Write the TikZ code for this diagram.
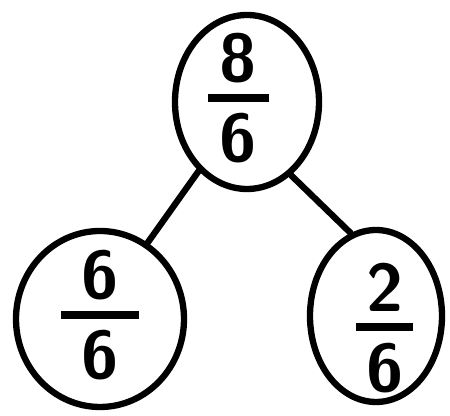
\documentclass[tikz,border=0pt]{standalone}
\usepackage{tikz}
\usetikzlibrary{shapes.geometric, positioning}
\newcommand{\handfrac}[3][0.9em]{\vbox{\offinterlineskip\halign{\hfil##\hfil\cr#2\cr\noalign{\kern8pt}\rule{#1}{5.5pt}\cr\noalign{\kern8.5pt}#3\cr}}}
\tikzset{
    part/.style={ellipse, draw=black, line width=4.5pt, inner sep=0pt},
    fraction/.style={inner sep=0pt, font=\fontsize{48}{52}\selectfont\sffamily\bfseries},
    branch/.style={line width=4.5pt, line cap=round}
}
\begin{document}
\begin{tikzpicture}
        % Frame
        \useasboundingbox (0,0) rectangle (11.25,10.4);
        
        % Whole
        \node (whole) [part, minimum width=3.6cm, minimum height=4.35cm] at (6.175, 7.85) {};
        \node (wholefrac) [fraction] at ([xshift=-0.22cm, yshift=0.1cm]whole.center) {\handfrac{8}{6}};
        
        % Parts
        \node (left) [part, minimum width=4.2cm, minimum height=4.4cm] at (2.5, 2.425) {};
        \node (leftfrac) [fraction] at ([yshift=0.1cm]left.center) {\handfrac[1.15em]{6}{6}};
        \node (right) [part, minimum width=3.3cm, minimum height=4.3cm] at (9.4, 2.5) {};
        \node (rightfrac) [fraction] at ([xshift=0.22cm, yshift=-0.3cm]right.center) {\handfrac[0.85em]{2}{6}};
        
        % Connections
        \draw[branch] (whole.-125) -- (left.58);
        \draw[branch] (whole.-59) -- (right.107);
    \end{tikzpicture}
\end{document}
